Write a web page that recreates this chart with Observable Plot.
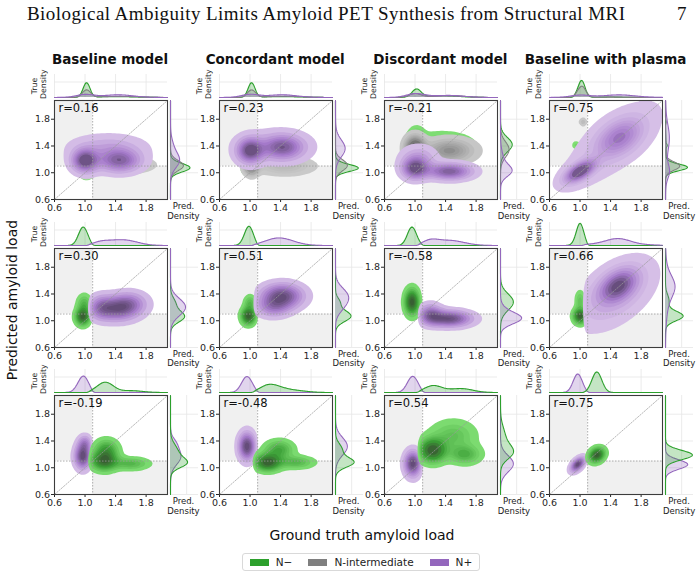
<!DOCTYPE html>
<html><head><meta charset="utf-8">
<script src="https://cdn.jsdelivr.net/npm/d3@7"></script>
<script src="https://cdn.jsdelivr.net/npm/@observablehq/plot@0.6"></script>
<style>
body{margin:0;background:#fff;}
#fig{position:relative;width:700px;height:578px;font-family:"DejaVu Sans",sans-serif;overflow:hidden;background:#fff}
#fig > *{position:absolute}
</style></head>
<body><div id="fig"></div>
<script>
// ---------------- data ----------------
const groupNames = ["N−", "N-intermediate", "N+"];
const groupColors = ["#2ca02c", "#7f7f7f", "#9467bd"];
const columnTitles = ["Baseline model", "Concordant model", "Discordant model", "Baseline with plasma"];
const axisTicks = [0.6, 1.0, 1.4, 1.8];
const axisDomain = [0.6, 2.08];
const positivityCut = 1.1;
const rValues = [
  [0.16, 0.23, -0.21, 0.75],
  [0.30, 0.51, -0.58, 0.66],
  [-0.19, -0.48, 0.54, 0.75]
];
// share of each group (N−, N-intermediate, N+) per row
const rowWeights = [[0.36, 0.28, 0.36], [0.45, 0, 0.55], [0.55, 0, 0.45]];
const rowDrawOrder = [[0, 1, 2], [0, 2], [2, 0]];
// range of true values per group per row
const rowTrueRange = [[null, null, null], [[0, 1.1], null, [1.05, 9]], [[1.05, 9], null, [0, 1.1]]];
// density components: [true mean, predicted mean, true sd, predicted sd, corr, share]
const r1Baseline = [
  [[1.02, 1.07, .045, .06, 0, .75], [1.4, 1.1, .25, .07, 0, .25]],
  [[1.02, 1.1, .055, .07, 0, .6], [1.45, 1.12, .25, .08, 0, .4]],
  [[1.0, 1.18, .11, .11, 0, .33], [1.45, 1.18, .18, .11, 0, .42], [1.3, 1.38, .3, .12, 0, .25]]
];
const r1Concordant = [
  [[1.02, 1.07, .045, .05, 0, .75], [1.4, 1.08, .25, .07, 0, .25]],
  [[1.02, 1.12, .055, .08, 0, .6], [1.45, 1.1, .22, .08, 0, .4]],
  [[1.0, 1.33, .11, .12, 0, .35], [1.43, 1.38, .18, .12, 0, .45], [1.3, 1.4, .3, .15, 0, .2]]
];
const r1Discordant = [
  [[1.02, 1.42, .06, .11, 0, .55], [1.35, 1.42, .22, .1, 0, .45]],
  [[1.0, 1.37, .08, .11, 0, .45], [1.45, 1.33, .2, .11, 0, .55]],
  [[1.0, 1.06, .11, .1, 0, .35], [1.45, 1.02, .19, .08, 0, .45], [1.05, 1.22, .15, .12, 0, .2]]
];
const r1Plasma = [
  [[1.02, 1.08, .045, .05, 0, .88], [0.95, 1.41, .02, .02, 0, .02], [1.4, 1.3, .2, .2, .5, .1]],
  [[1.02, 1.1, .055, .06, 0, .88], [1.04, 1.76, .02, .025, 0, .02], [1.4, 1.3, .2, .2, .5, .1]],
  [[1.0, 1.02, .12, .1, .6, .28], [1.52, 1.53, .19, .18, .4, .42], [1.4, 1.4, .36, .36, .75, .3]]
];
const r2Baseline = [
  [[0.97, 1.06, .06, .08, 0, .7], [0.99, 1.25, .06, .09, 0, .3]],
  [],
  [[1.42, 1.18, .19, .12, 0, .65], [1.6, 1.28, .15, .11, 0, .2], [1.2, 1.2, .1, .12, 0, .15]]
];
const r2Concordant = [
  [[0.98, 1.07, .06, .08, 0, .8], [1.0, 1.27, .05, .07, 0, .2]],
  [],
  [[1.42, 1.37, .18, .12, 0, .75], [1.3, 1.2, .15, .1, 0, .25]]
];
const r2Discordant = [
  [[0.96, 1.28, .06, .12, 0, 1]],
  [],
  [[1.45, 1.03, .19, .08, 0, .7], [1.2, 1.1, .1, .1, 0, .3]]
];
const r2Plasma = [
  [[1.0, 1.07, .055, .07, 0, .8], [1.0, 1.3, .04, .09, 0, .2]],
  [],
  [[1.5, 1.52, .15, .15, .4, .5], [1.45, 1.4, .3, .3, .5, .5]]
];
const r3Baseline = [
  [[1.25, 1.1, .11, .09, 0, .5], [1.6, 1.06, .15, .06, 0, .2], [1.28, 1.27, .1, .1, 0, .3]],
  [],
  [[0.97, 1.17, .07, .12, 0, .8], [1.0, 1.37, .06, .08, 0, .2]]
];
const r3Concordant = [
  [[1.23, 1.08, .11, .08, 0, .5], [1.6, 1.08, .15, .06, 0, .2], [1.38, 1.27, .12, .09, 0, .3]],
  [],
  [[0.96, 1.32, .07, .13, 0, 1]]
];
const r3Discordant = [
  [[1.23, 1.26, .11, .11, 0, .5], [1.5, 1.48, .18, .14, 0, .3], [1.65, 1.2, .13, .09, 0, .2]],
  [],
  [[0.97, 1.06, .07, .12, 0, 1]]
];
const r3Plasma = [
  [[1.22, 1.19, .065, .07, .2, 1]],
  [],
  [[0.97, 1.05, .06, .07, .5, 1]]
];
const panels = [
  [r1Baseline, r1Concordant, r1Discordant, r1Plasma],
  [r2Baseline, r2Concordant, r2Discordant, r2Plasma],
  [r3Baseline, r3Concordant, r3Discordant, r3Plasma]
];

// ---------------- computation ----------------
const sig = z => 1 / (1 + Math.exp(-z));
function makeDensity(comps, clip) {
  return (x, y) => {
    let s = 0;
    for (const [mx, my, sx, sy, rho, w] of comps) {
      const dx = (x - mx) / sx, dy = (y - my) / sy, q = 1 - rho * rho;
      s += w / (sx * sy * Math.sqrt(q)) * Math.exp(-(dx * dx - 2 * rho * dx * dy + dy * dy) / (2 * q));
    }
    if (clip) s *= sig((x - clip[0]) / 0.012) * sig((clip[1] - x) / 0.012);
    return s;
  };
}
const G0 = 0.2, G1 = 2.5, h = 0.01, N = Math.round((G1 - G0) / h) + 1;
const grid = d3.range(N).map(i => G0 + i * h);
const props = d3.range(10).map(i => 0.05 + i * (0.95 / 9));

function analyse(comps, clip, weight) {
  const f = makeDensity(comps, clip);
  const vals = new Float64Array(N * N);
  let sum = 0;
  for (let i = 0; i < N; i++) for (let j = 0; j < N; j++) { const v = f(grid[i], grid[j]); vals[i * N + j] = v; sum += v; }
  const norm = weight / (sum * h * h);
  const mx = [], my = [];
  for (let i = 0; i < N; i++) { let a = 0, b = 0; for (let j = 0; j < N; j++) { a += vals[i * N + j]; b += vals[j * N + i]; } mx.push(a * h * norm); my.push(b * h * norm); }
  const sorted = Array.from(vals).sort((a, b) => b - a);
  let cum = 0; const cums = sorted.map(v => (cum += v) / sum);
  const levels = props.map(p => sorted[Math.min(sorted.length - 1, d3.bisectLeft(cums, 1 - p))] * norm);
  return {value: (x, y) => f(x, y) * norm, mx, my, levels};
}

const groupChroma = [[62, 64, 26], [0, 0, 0], [20, 46, 26]];
function levelColor(g, t) {
  const hue = g === 1 ? 0 : d3.hcl(groupColors[g]).h;
  const L = 82 - 48 * t;
  const c = groupChroma[g];
  const C = t < .5 ? c[0] + (c[1] - c[0]) * t * 2 : c[1] + (c[2] - c[1]) * (t - .5) * 2;
  return d3.hcl(hue, C, L).formatHex();
}

const results = panels.map((row, r) => row.map(panel =>
  panel.map((comps, g) => comps.length ? analyse(comps, rowTrueRange[r][g], rowWeights[r][g]) : null)));
let topMax = 0, sideMax = 0;
const inDom = i => grid[i] >= axisDomain[0] - 1e-9 && grid[i] <= axisDomain[1] + 1e-9;
results.flat(2).forEach(res => { if (!res) return; grid.forEach((v, i) => { if (inDom(i)) { topMax = Math.max(topMax, res.mx[i]); sideMax = Math.max(sideMax, res.my[i]); } }); });

// ---------------- layout ----------------
const fig = document.getElementById("fig");
const W = 113, H = 99;
const colLeft = c => 53.5 + 165.2 * c;
const rowTop = r => 100 + 147.5 * r;
function place(el, left, top) { el.style.left = left + "px"; el.style.top = top + "px"; fig.appendChild(el); return el; }
function div(html, css) { const d = document.createElement("div"); d.innerHTML = html; d.style.cssText = css; return d; }

// title
const ns = "http://www.w3.org/2000/svg";
const tsvg = document.createElementNS(ns, "svg");
tsvg.setAttribute("width", 700); tsvg.setAttribute("height", 30);
tsvg.innerHTML = `<text x="27" y="20" font-family="Liberation Serif, serif" font-size="19" textLength="598" lengthAdjust="spacing" fill="#111">Biological Ambiguity Limits Amyloid PET Synthesis from Structural MRI</text><text x="677" y="20" font-family="Liberation Serif, serif" font-size="19" fill="#111">7</text>`;
place(tsvg, 0, 0);

columnTitles.forEach((t, c) => {
  place(div(t, `width:200px;text-align:center;font-weight:bold;font-size:13.5px;color:#111;white-space:nowrap;`), colLeft(c) + W / 2 - 100, 51);
});

const fmt = d3.format(".1f");
const gridColor = "#e6e6e6";

for (let r = 0; r < 3; r++) {
  for (let c = 0; c < 4; c++) {
    const res = results[r][c];
    const order = rowDrawOrder[r];
    const L = colLeft(c), T = rowTop(r);
    // main panel
    const marks = [
      Plot.rect([{x1: axisDomain[0], x2: positivityCut, y1: positivityCut, y2: axisDomain[1]},
                 {x1: positivityCut, x2: axisDomain[1], y1: axisDomain[0], y2: positivityCut}],
        {x1: "x1", x2: "x2", y1: "y1", y2: "y2", fill: "#f0f0f0"})
    ];
    for (const g of order) {
      const a = res[g]; if (!a) continue;
      const lv = a.levels;
      for (let k = 0; k < lv.length - 1; k++) {
        const t = ((lv[k] + lv[k + 1]) / 2 - lv[0]) / (lv[lv.length - 1] - lv[0]);
        marks.push(Plot.contour(undefined, {
          x1: axisDomain[0], x2: axisDomain[1], y1: axisDomain[0], y2: axisDomain[1],
          value: (x, y) => a.value(x, y), thresholds: [lv[k]],
          fill: levelColor(g, t), stroke: "none"
        }));
      }
    }
    marks.push(
      Plot.ruleX([positivityCut], {stroke: "#9a9a9a", strokeWidth: 0.8, strokeDasharray: "1.5,1.5"}),
      Plot.ruleY([positivityCut], {stroke: "#9a9a9a", strokeWidth: 0.8, strokeDasharray: "1.5,1.5"}),
      Plot.line([axisDomain[0], axisDomain[1]], {x: d => d, y: d => d, stroke: "#9a9a9a", strokeWidth: 0.7, strokeDasharray: "1.5,1.5"}),
      Plot.frame({stroke: "#3c3c3c", strokeWidth: 1.1}),
      Plot.text([`r=${rValues[r][c].toFixed(2)}`], {text: d => d, frameAnchor: "top-left", dx: 4, dy: 3, fontSize: 11.5, fill: "#111"})
    );
    const mL = 28, mR = 3, mT = 3, mB = 20;
    const main = Plot.plot({
      width: W + mL + mR, height: H + mT + mB,
      marginLeft: mL, marginRight: mR, marginTop: mT, marginBottom: mB,
      style: {fontFamily: "DejaVu Sans", fontSize: "9.5px", color: "#262626", background: "transparent", overflow: "visible"},
      x: {domain: axisDomain, ticks: axisTicks, tickFormat: fmt, label: null, tickSize: 3, tickPadding: 1.5},
      y: {domain: axisDomain, ticks: axisTicks, tickFormat: fmt, label: null, tickSize: 3, tickPadding: 1.5},
      marks
    });
    place(main, L - mL, T - mT);

    // marginals
    const topMarks = [
      Plot.ruleX(axisTicks, {stroke: gridColor, strokeWidth: 0.8}),
      Plot.ruleY([topMax * 0.7], {stroke: gridColor, strokeWidth: 0.8})
    ];
    const sideMarks = [
      Plot.ruleY(axisTicks, {stroke: gridColor, strokeWidth: 0.8}),
      Plot.ruleX([sideMax * 0.6], {stroke: gridColor, strokeWidth: 0.8})
    ];
    for (const g of order) {
      const a = res[g]; if (!a) continue;
      const pts = grid.map((v, i) => ({v, dx: a.mx[i], dy: a.my[i]})).filter((d, i) => inDom(i));
      topMarks.push(
        Plot.areaY(pts, {x: "v", y: "dx", fill: groupColors[g], fillOpacity: 0.28}),
        Plot.lineY(pts, {x: "v", y: "dx", stroke: groupColors[g], strokeWidth: 1.1})
      );
      sideMarks.push(
        Plot.areaX(pts, {y: "v", x: "dy", fill: groupColors[g], fillOpacity: 0.28}),
        Plot.lineX(pts, {y: "v", x: "dy", stroke: groupColors[g], strokeWidth: 1.1})
      );
    }
    const top = Plot.plot({
      width: W, height: 23, margin: 0,
      style: {background: "transparent", overflow: "visible"},
      x: {domain: axisDomain, axis: null}, y: {domain: [0, topMax * 1.04], axis: null},
      marks: topMarks
    });
    place(top, L, T - 26);
    const side = Plot.plot({
      width: 28, height: H, margin: 0,
      style: {background: "transparent", overflow: "visible"},
      y: {domain: axisDomain, axis: null}, x: {domain: [0, sideMax * 1.04], axis: null},
      marks: sideMarks
    });
    place(side, L + 116, T);

    place(div("True<br>Density", "width:26px;height:18px;font-size:7.8px;line-height:8.5px;color:#222;text-align:center;transform:rotate(-90deg);"), L - 27, T - 23);
    place(div("Pred.<br>Density", "width:44px;font-size:8.5px;line-height:9.5px;color:#222;text-align:center;"), L + 130 - 22, T + 102);
  }
}

// axis labels
place(div("Predicted amyloid load", "width:200px;height:18px;line-height:18px;font-size:14px;color:#111;text-align:center;transform:rotate(-90deg);"), 12 - 100, 300 - 9);
place(div("Ground truth amyloid load", "width:240px;text-align:center;font-size:14px;color:#111;"), 362 - 120, 527);

// legend
const leg = div(groupNames.map((n, g) =>
  `<span style="display:inline-flex;align-items:center;margin-right:${g < 2 ? 16 : 0}px"><span style="display:inline-block;width:19px;height:7px;background:${groupColors[g]};margin-right:7px"></span>${n}</span>`).join(""),
  "width:238px;height:18px;box-sizing:border-box;border:1px solid #d9d9d9;border-radius:3px;font-size:10.5px;color:#222;display:flex;align-items:center;justify-content:center;");
place(leg, 242, 553);
</script>
</body></html>
